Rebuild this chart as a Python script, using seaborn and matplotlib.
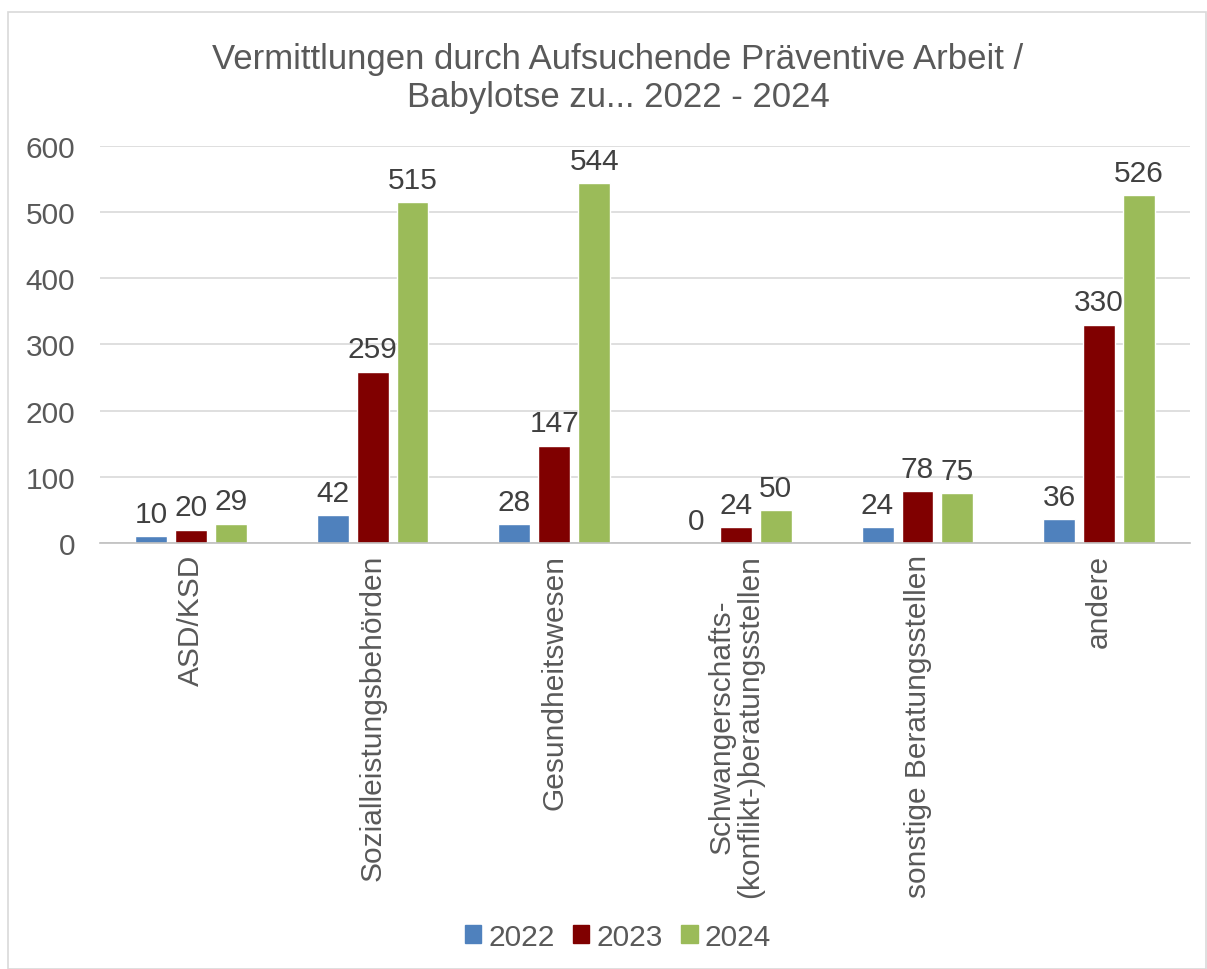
import matplotlib
matplotlib.use('Agg')
import matplotlib.pyplot as plt
import matplotlib.patches as mpatches
import pandas as pd
import seaborn as sns

categories = ['ASD/KSD', 'Sozialleistungsbehörden', 'Gesundheitswesen',
              'Schwangerschafts-\n(konflikt-)beratungsstellen',
              'sonstige Beratungsstellen', 'andere']
years = ['2022', '2023', '2024']
values_2022 = [10, 42, 28, 0, 24, 36]
values_2023 = [20, 259, 147, 24, 78, 330]
values_2024 = [29, 515, 544, 50, 75, 526]
colors = ['#4F81BD', '#800000', '#9BBB59']

df = pd.DataFrame({
    'Kategorie': categories * 3,
    'Jahr': [y for y in years for _ in categories],
    'Anzahl': values_2022 + values_2023 + values_2024,
})

sns.set_style('white')
plt.rcParams['font.family'] = ['Liberation Sans', 'DejaVu Sans']
text_color = '#595959'
fs = 21.5

fig = plt.figure(figsize=(12.07, 9.70), dpi=100)
ax = fig.add_axes([0.0829, 0.4392, 0.903, 0.4093])

sns.barplot(data=df, x='Kategorie', y='Anzahl', hue='Jahr', palette=colors,
            saturation=1, width=0.66, gap=0.2, ax=ax, legend=False)

ax.set_ylim(0, 600)
ax.set_yticks(range(0, 601, 100))
ax.set_xlim(-0.5, len(categories) - 0.5)
ax.yaxis.grid(True, color='#D9D9D9', linewidth=1.2)
ax.set_axisbelow(True)
for side in ['left', 'right', 'top']:
    ax.spines[side].set_visible(False)
ax.spines['bottom'].set_color('#BFBFBF')
ax.spines['bottom'].set_linewidth(1.2)
ax.set_xlabel('')
ax.set_ylabel('')
ax.tick_params(axis='both', length=0, colors=text_color, labelsize=fs)
ax.tick_params(axis='y', pad=18)
ax.tick_params(axis='x', pad=8)
ax.set_xticks(range(len(categories)))
ax.set_xticklabels(categories, rotation=90, va='top', ha='center',
                   multialignment='center', linespacing=1.0)

for container in ax.containers:
    ax.bar_label(container, fontsize=fs, color='#404040', padding=6)

fig.text(0.512, 0.919, 'Vermittlungen durch Aufsuchende Präventive Arbeit /\nBabylotse zu... 2022 - 2024',
         ha='center', va='center', fontsize=25, color=text_color, linespacing=1.2)

handles = [mpatches.Patch(color=c, label=y) for c, y in zip(colors, years)]
fig.legend(handles=handles, loc='center', bbox_to_anchor=(0.512, 0.033), ncol=3,
           frameon=False, fontsize=fs, handlelength=0.55, handleheight=0.55,
           handletextpad=0.25, columnspacing=0.6, labelcolor=text_color)

fig.patches.append(mpatches.Rectangle((8 / 1207, 0), 1 - 8 / 1207 - 0.001, 1 - 13 / 970,
                                      transform=fig.transFigure, fill=False,
                                      edgecolor='#D9D9D9', linewidth=1.2))

fig.savefig('out.png', dpi=100)
